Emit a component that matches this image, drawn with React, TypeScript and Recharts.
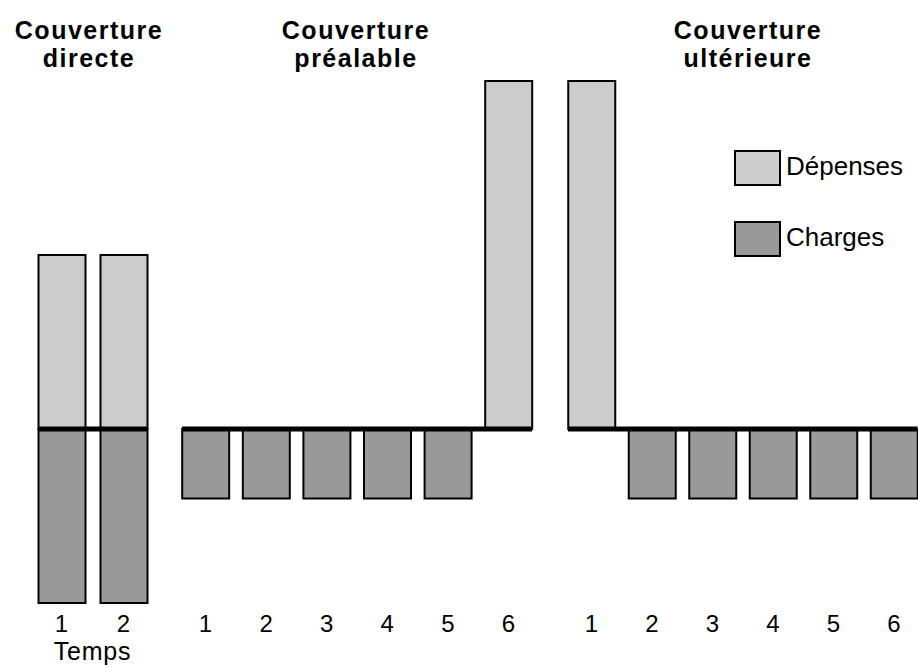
import React from 'react';
import { BarChart, Bar, XAxis, YAxis, ReferenceLine, Legend } from 'recharts';

const FONT = '"Liberation Sans", Arial, Helvetica, sans-serif';

const groupTitles = ['Couverture directe', 'Couverture préalable', 'Couverture ultérieure'];
const seriesNames = ['Dépenses', 'Charges'];

const directePeriods = ['1', '2'];
const directeDepenses = [1, 1];
const directeCharges = [-1, -1];

const prealablePeriods = ['1', '2', '3', '4', '5', '6'];
const prealableDepenses = [0, 0, 0, 0, 0, 2];
const prealableCharges = [-0.4, -0.4, -0.4, -0.4, -0.4, 0];

const ulterieurePeriods = ['1', '2', '3', '4', '5', '6'];
const ulterieureDepenses = [2, 0, 0, 0, 0, 0];
const ulterieureCharges = [0, -0.4, -0.4, -0.4, -0.4, -0.4];

const LIGHT = '#cccccc';
const DARK = '#999999';
const BAR_W = 47;

const buildRows = (periods: string[], dep: number[], chg: number[]) =>
  periods.map((p, i) => ({ periode: p, depenses: dep[i], charges: chg[i] }));

// legend drawn in the series order (Dépenses on top), not the stack order
const LegendBox = ({ payload }: any) => {
  const items = seriesNames
    .map((n) => (payload || []).find((p: any) => p.value === n))
    .filter(Boolean);
  return (
    <div style={{ fontFamily: FONT }}>
      {items.map((entry: any, i: number) => (
        <div
          key={entry.value}
          style={{ display: 'flex', alignItems: 'center', height: 36, marginBottom: i === 0 ? 35 : 0 }}
        >
          <div
            style={{
              width: BAR_W,
              height: 36,
              boxSizing: 'border-box',
              border: '2px solid #000',
              background: entry.color,
            }}
          />
          <span style={{ marginLeft: 5, fontSize: 26, color: '#000', position: 'relative', top: -2 }}>
            {entry.value}
          </span>
        </div>
      ))}
    </div>
  );
};

interface GroupProps {
  title: string;
  titleCenter: number;
  plotLeft: number;
  band: number;
  periods: string[];
  depenses: number[];
  charges: number[];
  showTemps?: boolean;
  showLegend?: boolean;
}

const GroupChart: React.FC<GroupProps> = ({
  title,
  titleCenter,
  plotLeft,
  band,
  periods,
  depenses,
  charges,
  showTemps,
  showLegend,
}) => {
  const pad = (band - BAR_W) / 2;
  const plotWidth = periods.length * band - 2 * pad;
  const left = plotLeft - 10;
  const data = buildRows(periods, depenses, charges);
  const words = title.split(' ');

  return (
    <>
      {words.map((w, i) => (
        <div
          key={w}
          style={{
            position: 'absolute',
            left: titleCenter - 130,
            top: 16 + i * 28,
            width: 260,
            height: 28,
            textAlign: 'center',
            fontFamily: FONT,
            fontWeight: 'bold',
            fontSize: 25,
            lineHeight: '28px',
            letterSpacing: 1.5,
            color: '#000',
          }}
        >
          {w}
        </div>
      ))}
      <div style={{ position: 'absolute', left, top: 0 }}>
        <BarChart
          width={plotWidth + 20}
          height={668}
          data={data}
          stackOffset="sign"
          margin={{ top: 81, right: 10, bottom: 0, left: 10 }}
        >
          <XAxis
            dataKey="periode"
            axisLine={false}
            tickLine={false}
            tickMargin={6}
            height={65}
            padding={{ left: -pad, right: -pad }}
            tick={{ fill: '#000', fontSize: 24, fontFamily: FONT }}
            label={
              showTemps
                ? {
                    value: 'Temps',
                    position: 'insideBottom',
                    offset: 8,
                    fill: '#000',
                    fontSize: 25,
                    fontFamily: FONT,
                    letterSpacing: 0.8,
                  }
                : undefined
            }
          />
          <YAxis hide domain={[-1, 2]} tickCount={4} />
          <Bar
            dataKey="depenses"
            name={seriesNames[0]}
            stackId="s"
            fill={LIGHT}
            stroke="#000"
            strokeWidth={2}
            barSize={BAR_W}
            isAnimationActive={false}
          />
          <Bar
            dataKey="charges"
            name={seriesNames[1]}
            stackId="s"
            fill={DARK}
            stroke="#000"
            strokeWidth={2}
            barSize={BAR_W}
            isAnimationActive={false}
          />
          <ReferenceLine y={0} stroke="#000" strokeWidth={5} />
          {showLegend && (
            <Legend
              layout="vertical"
              align="center"
              verticalAlign="middle"
              content={<LegendBox />}
              wrapperStyle={{ left: 734 - left, top: 150, width: 200, height: 110 }}
            />
          )}
        </BarChart>
      </div>
    </>
  );
};

export default function App() {
  return (
    <div
      style={{
        position: 'absolute',
        left: 0,
        top: 0,
        width: 918,
        height: 668,
        overflow: 'hidden',
        background: '#fff',
      }}
    >
      <GroupChart
        title={groupTitles[0]}
        titleCenter={89}
        plotLeft={38}
        band={62}
        periods={directePeriods}
        depenses={directeDepenses}
        charges={directeCharges}
        showTemps
      />
      <GroupChart
        title={groupTitles[1]}
        titleCenter={356}
        plotLeft={182}
        band={60.6}
        periods={prealablePeriods}
        depenses={prealableDepenses}
        charges={prealableCharges}
      />
      <GroupChart
        title={groupTitles[2]}
        titleCenter={748}
        plotLeft={568}
        band={60.5}
        periods={ulterieurePeriods}
        depenses={ulterieureDepenses}
        charges={ulterieureCharges}
        showLegend
      />
    </div>
  );
}
